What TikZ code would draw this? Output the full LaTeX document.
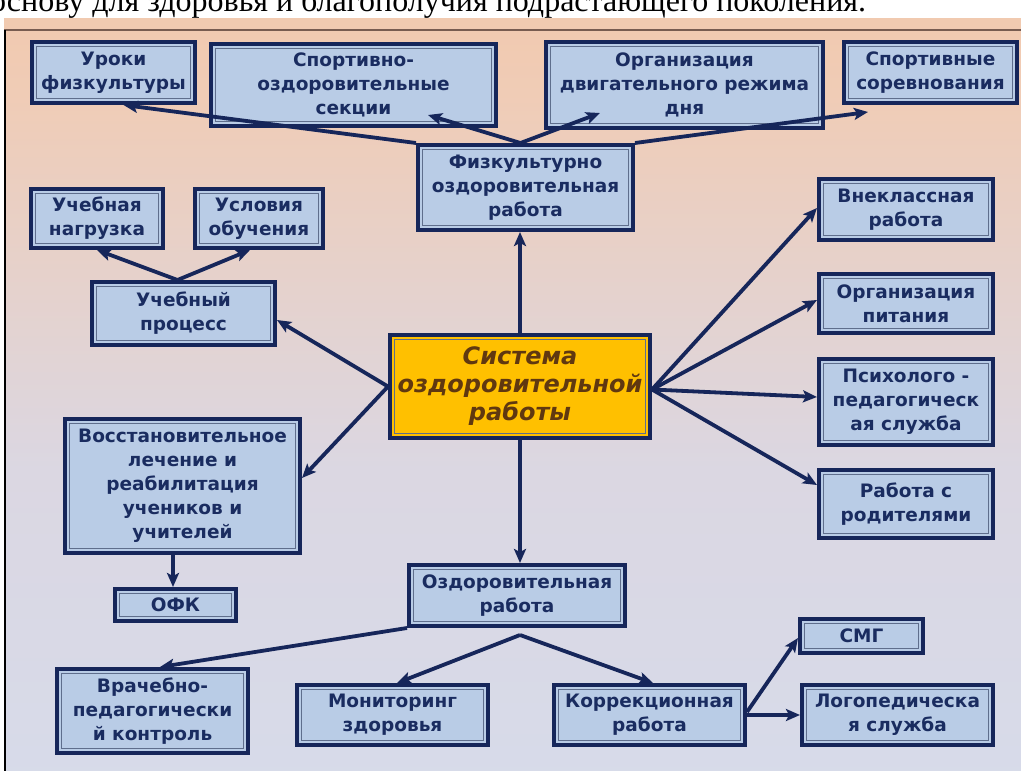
\documentclass[tikz,border=0pt]{standalone}
\usepackage{fontspec}
\newfontfamily\dv{DejaVu Sans}
\newfontfamily\tnr{Liberation Serif}
\usetikzlibrary{arrows.meta,calc}
\definecolor{cNavy}{RGB}{22,38,90}
\definecolor{cText}{RGB}{26,44,96}
\definecolor{cFill}{RGB}{185,204,230}
\definecolor{cInner}{RGB}{95,110,140}
\definecolor{cGold}{RGB}{255,192,0}
\definecolor{cBrown}{RGB}{96,56,16}
\definecolor{bgTop}{RGB}{248,190,145}
\definecolor{bgUp}{RGB}{240,204,182}
\definecolor{bgMid}{RGB}{219,215,226}
\definecolor{bgBot}{RGB}{210,223,242}
\definecolor{cTopLine}{RGB}{120,92,80}
\pgfdeclareverticalshading{bgshade}{100bp}{color(0bp)=(bgBot); color(45bp)=(bgMid); color(70bp)=(bgUp); color(100bp)=(bgTop)}
\tikzset{
  box/.style={draw=cNavy, line width=4pt, fill=cFill, inner sep=0pt, align=center,
    font=\fontsize{18.5}{24}\dv\bfseries, text=cText,
    path picture={\draw[line width=1.3pt, draw=cInner]
      ([shift={(4.6pt,4.6pt)}]path picture bounding box.south west) rectangle
      ([shift={(-4.6pt,-4.6pt)}]path picture bounding box.north east);}},
  mainbox/.style={box, fill=cGold, text=cBrown, font=\fontsize{24}{28}\dv\bfseries\itshape},
  arr/.style={draw=cNavy, line width=3.8pt, line join=round,
    -{Stealth[length=14pt,width=12pt,inset=3pt]}},
}
\begin{document}
\begin{tikzpicture}[x=1pt,y=-1pt]
\useasboundingbox (0,0) rectangle (1021,771);
% background
\shade[shading=bgshade] (4,18) rectangle (1021,771);
\draw[cTopLine, line width=1.5pt] (4,30) -- (1021,30);
\draw[black, line width=2pt] (5,30) -- (5,771);
% top clipped text
\begin{scope}
\clip (0,0) rectangle (1021,18);
\node[anchor=base west, inner sep=0pt, font=\fontsize{32}{32}\tnr] (toptext) at (-10,12) {основу для здоровья и благополучия подрастающего поколения.};
\end{scope}
% boxes
\node[box, minimum width=163, minimum height=61] (uroki) at (113.5,72.5) {Уроки\\физкультуры};
\node[box, minimum width=285, minimum height=82] (sekc) at (353.5,85) {Спортивно-\\оздоровительные\\секции};
\node[box, minimum width=277, minimum height=86] (rezh) at (684.5,85) {Организация\\двигательного режима\\дня};
\node[box, minimum width=173, minimum height=61] (sorev) at (930.5,72.5) {Спортивные\\соревнования};
\node[box, minimum width=215, minimum height=85] (fiz) at (525.5,187.5) {Физкультурно\\оздоровительная\\работа};
\node[box, minimum width=132, minimum height=59] (nagr) at (97,218.5) {Учебная\\нагрузка};
\node[box, minimum width=128, minimum height=59] (uslov) at (259,218.5) {Условия\\обучения};
\node[box, minimum width=183, minimum height=63] (uchp) at (183.5,313.5) {Учебный\\процесс};
\node[mainbox, minimum width=260, minimum height=103] (center) at (520,386.5) {Система\\оздоровительной\\работы};
\node[box, minimum width=174, minimum height=61] (vnekl) at (906,209.5) {Внеклассная\\работа};
\node[box, minimum width=174, minimum height=59] (pit) at (906,303.5) {Организация\\питания};
\node[box, minimum width=174, minimum height=86] (psy) at (906,402) {Психолого -\\педагогическ\\ая служба};
\node[box, minimum width=174, minimum height=68] (rod) at (906,504) {Работа с\\родителями};
\node[box, minimum width=235, minimum height=134] (vosst) at (182.5,486) {Восстановительное\\лечение и\\реабилитация\\учеников и\\учителей};
\node[box, minimum width=121, minimum height=32] (ofk) at (175.5,605) {ОФК};
\node[box, minimum width=216, minimum height=61] (ozd) at (517,595.5) {Оздоровительная\\работа};
\node[box, minimum width=191, minimum height=84] (vrach) at (152.5,711) {Врачебно-\\педагогически\\й контроль};
\node[box, minimum width=191, minimum height=60] (monit) at (392.5,715) {Мониторинг\\здоровья};
\node[box, minimum width=191, minimum height=60] (korr) at (649.5,715) {Коррекционная\\работа};
\node[box, minimum width=123, minimum height=34] (smg) at (861.5,636) {СМГ};
\node[box, minimum width=191, minimum height=60] (logo) at (897.5,715) {Логопедическа\\я служба};
% connectors
\coordinate (fizTop) at ([shift={(-5,0)}]fiz.north);
\draw[arr] (fiz.north west) -- ([shift={(10,0)}]uroki.south);
\draw[arr] (fizTop) -- ([shift={(74.5,30)}]sekc.center);
\draw[arr] (fizTop) -- ([shift={(-84.5,28)}]rezh.center);
\draw[arr] (fiz.north east) -- ([shift={(-62.5,7)}]sorev.south);
\draw[arr] (center.north) -- (center.north |- fiz.south);
\draw[arr] (center.west) -- ([shift={(0,6.5)}]uchp.east);
\draw[arr] (center.west) -- ([shift={(0,-8)}]vosst.east);
\draw[arr] ([shift={(-6,0)}]uchp.north) -- (nagr.south);
\draw[arr] ([shift={(-6,0)}]uchp.north) -- ([shift={(-9,0)}]uslov.south);
\coordinate (vosstBot) at ([shift={(-9.5,0)}]vosst.south);
\draw[arr] (vosstBot) -- (vosstBot |- ofk.north);
\coordinate (cEast) at ([shift={(0,3)}]center.east);
\draw[arr] (cEast) -- ([shift={(0,-1.5)}]vnekl.west);
\draw[arr] (cEast) -- ([shift={(0,-3.5)}]pit.west);
\draw[arr] (cEast) -- ([shift={(0,-5)}]psy.west);
\draw[arr] (cEast) -- ([shift={(0,-19)}]rod.west);
\draw[arr] (center.south) -- (center.south |- ozd.north);
\draw[arr] (ozd.south west) -- ([shift={(7.5,0)}]vrach.north);
\coordinate (apex) at ([shift={(3,7)}]ozd.south);
\draw[arr] (apex) -- ([shift={(4.5,0)}]monit.north);
\draw[arr] (apex) -- ([shift={(3.5,0)}]korr.north);
\draw[arr] ([shift={(0,-3)}]korr.east) -- ([shift={(0,2)}]smg.west);
\draw[arr] (korr.east) -- (logo.west);
\end{tikzpicture}
\end{document}
